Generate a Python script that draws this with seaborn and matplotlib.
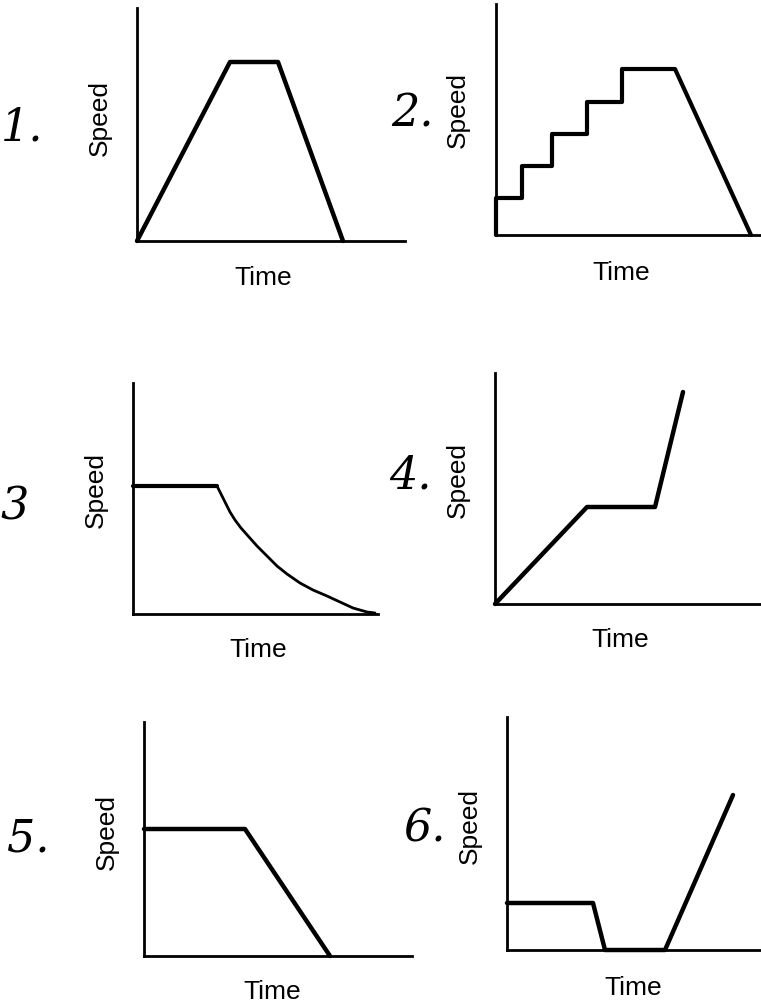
import matplotlib
matplotlib.use("Agg")
import matplotlib.pyplot as plt
import seaborn as sns

# ── Dados (unidades arbitrárias) ──────────────────────────────────────────────
T1 = [0, 93, 141, 206]
V1 = [0, 179, 179, 0]

T2 = [0, 0, 26, 26, 56, 56, 91, 91, 126, 126, 179, 255]
V2 = [0, 37, 37, 69, 69, 101, 101, 133, 133, 166, 166, 0]

T3_FLAT = [0, 84]
V3_FLAT = [128, 128]
T3_CURVA = [84, 88, 92, 97, 102, 108, 116, 124, 134, 144, 154, 167, 180, 194, 207, 220, 234, 242]
V3_CURVA = [128, 120, 112, 102, 94, 86, 77, 68, 58, 48, 40, 31, 24, 18, 12, 6, 2, 1]

T4 = [0, 92, 160, 188]
V4 = [0, 97, 97, 212]

T5 = [0, 101, 186]
V5 = [127, 127, 0]

T6 = [0, 86, 98, 158, 226]
V6 = [47, 47, 0, 0, 155]

NUMEROS = ["1.", "2.", "3", "4.", "5.", "6."]
XLABEL = "Time"
YLABEL = "Speed"

# ── Estilo ────────────────────────────────────────────────────────────────────
sns.set_style("white")
plt.rcParams["font.family"] = ["Liberation Sans Narrow", "Liberation Sans", "DejaVu Sans"]

W, H = 761, 1008
fig = plt.figure(figsize=(W / 100, H / 100), dpi=100)

# retângulos dos eixos em pixels: x0, y_topo, x1, y_base
rects = [
    (137, 8, 405, 241),
    (496, 4, 761, 235),
    (133, 383, 378, 614),
    (495, 373, 761, 604),
    (144, 722, 412, 956),
    (507, 717, 761, 950),
]
# posição dos textos (pixels): Speed, Time, número
pos_speed = [(100, 118), (458, 110), (96, 490), (458, 480), (107, 832), (470, 826)]
pos_time = [(263, 278), (621, 273), (258, 650), (620, 640), (272, 992), (633, 988)]
pos_num = [(22, 128), (412, 114), (15, 507), (410, 476), (28, 839), (425, 829)]

series = [
    [(T1, V1, 3.2)],
    [(T2, V2, 3.0)],
    [(T3_FLAT, V3_FLAT, 3.0), (T3_CURVA, V3_CURVA, 2.0)],
    [(T4, V4, 3.2)],
    [(T5, V5, 3.2)],
    [(T6, V6, 3.2)],
]

for i, (x0, yt, x1, yb) in enumerate(rects):
    ax = fig.add_axes([x0 / W, 1 - yb / H, (x1 - x0) / W, (yb - yt) / H])
    for t, v, lw in series[i]:
        sns.lineplot(x=t, y=v, sort=False, estimator=None, color="black",
                     linewidth=lw, ax=ax, clip_on=False)
    ax.set_xlim(0, x1 - x0)
    ax.set_ylim(0, yb - yt)
    ax.set_xticks([])
    ax.set_yticks([])
    for lado in ["top", "right"]:
        ax.spines[lado].set_visible(False)
    for lado in ["left", "bottom"]:
        ax.spines[lado].set_color("black")
        ax.spines[lado].set_linewidth(2.0)
    ax.patch.set_alpha(0)

    sx, sy = pos_speed[i]
    fig.text(sx / W, 1 - sy / H, YLABEL, rotation=90, ha="center", va="center",
             fontsize=19, color="black")
    tx, ty = pos_time[i]
    fig.text(tx / W, 1 - ty / H, XLABEL, ha="center", va="center",
             fontsize=19, color="black")
    nx, ny = pos_num[i]
    fig.text(nx / W, 1 - ny / H, NUMEROS[i], ha="center", va="center",
             fontsize=32, style="italic", fontweight="light",
             family=["DejaVu Serif"], color="black")

fig.savefig("out.png", dpi=100, facecolor="white")
